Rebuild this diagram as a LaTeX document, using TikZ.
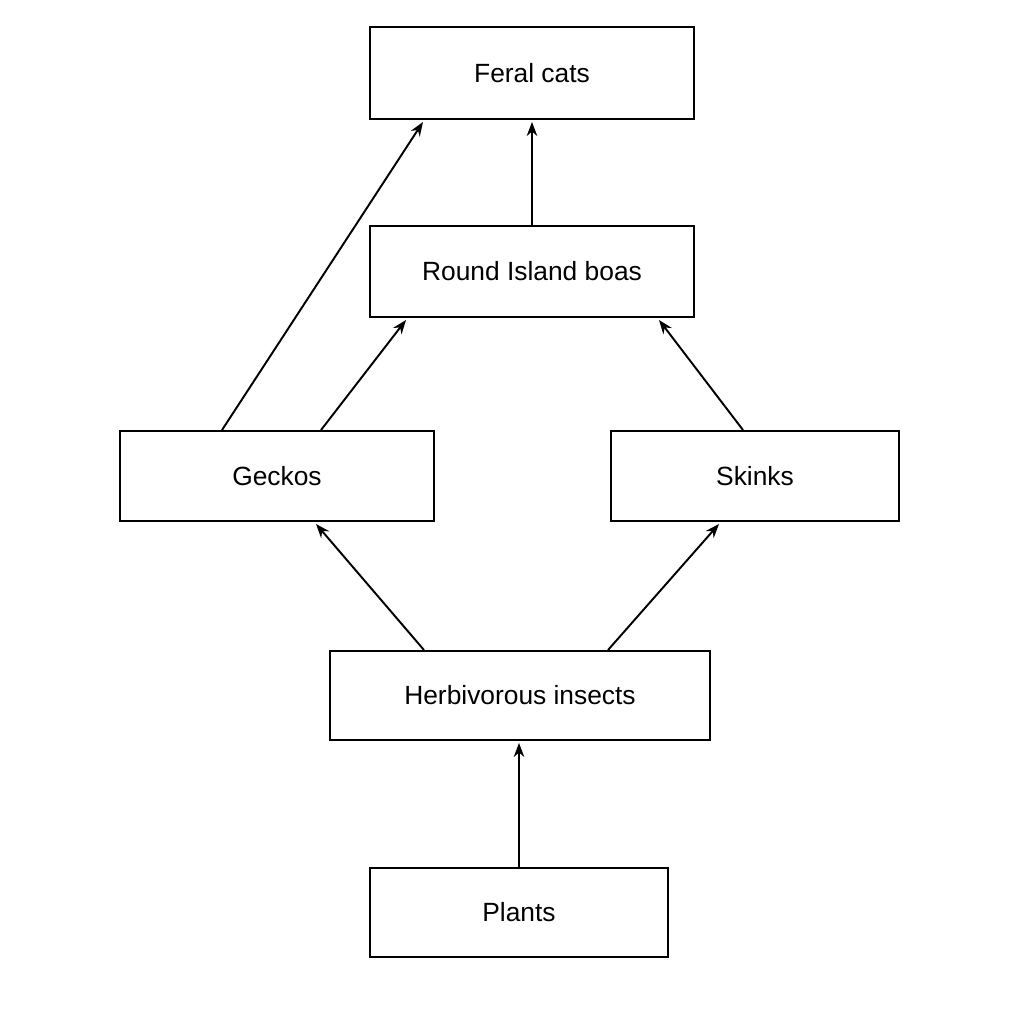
\documentclass[tikz,border=0pt]{standalone}
\usepackage{fontspec}
\setmainfont{Liberation Sans}
\usetikzlibrary{arrows.meta}
\begin{document}
\begin{tikzpicture}[x=0.02cm,y=-0.02cm,
  box/.style={draw,line width=1.1pt,fill=white,inner sep=0pt,font=\fontsize{15}{18}\selectfont},
  arr/.style={line width=1.1pt,-{Stealth[length=8pt,width=6pt]}}]
\useasboundingbox[fill=white] (0,0) rectangle (1024,1024);
\node[box,minimum width=324*0.02cm,minimum height=92*0.02cm] (cats) at (532,73) {Feral cats};
\node[box,minimum width=324*0.02cm,minimum height=91*0.02cm] (boas) at (532,271.5) {Round Island boas};
\node[box,minimum width=314*0.02cm,minimum height=90*0.02cm] (geckos) at (277,476) {Geckos};
\node[box,minimum width=288*0.02cm,minimum height=90*0.02cm] (skinks) at (755,476) {Skinks};
\node[box,minimum width=380*0.02cm,minimum height=89*0.02cm] (herb) at (520,695.5) {Herbivorous insects};
\node[box,minimum width=298*0.02cm,minimum height=89*0.02cm] (plants) at (519,912.5) {Plants};
\draw[arr] ([xshift=-55*0.02cm]geckos.north) -- ([xshift=-109*0.02cm,yshift=-2*0.02cm]cats.south);
\draw[arr] (boas.north) -- ([yshift=-2*0.02cm]cats.south);
\draw[arr] ([xshift=44*0.02cm]geckos.north) -- ([xshift=-126*0.02cm,yshift=-2*0.02cm]boas.south);
\draw[arr] ([xshift=-12*0.02cm]skinks.north) -- ([xshift=127*0.02cm,yshift=-2*0.02cm]boas.south);
\draw[arr] ([xshift=-96*0.02cm]herb.north) -- ([xshift=39*0.02cm,yshift=-2*0.02cm]geckos.south);
\draw[arr] ([xshift=88*0.02cm]herb.north) -- ([xshift=-36*0.02cm,yshift=-2*0.02cm]skinks.south);
\draw[arr] (plants.north) -- ([xshift=-1*0.02cm,yshift=-2*0.02cm]herb.south);
\end{tikzpicture}
\end{document}
